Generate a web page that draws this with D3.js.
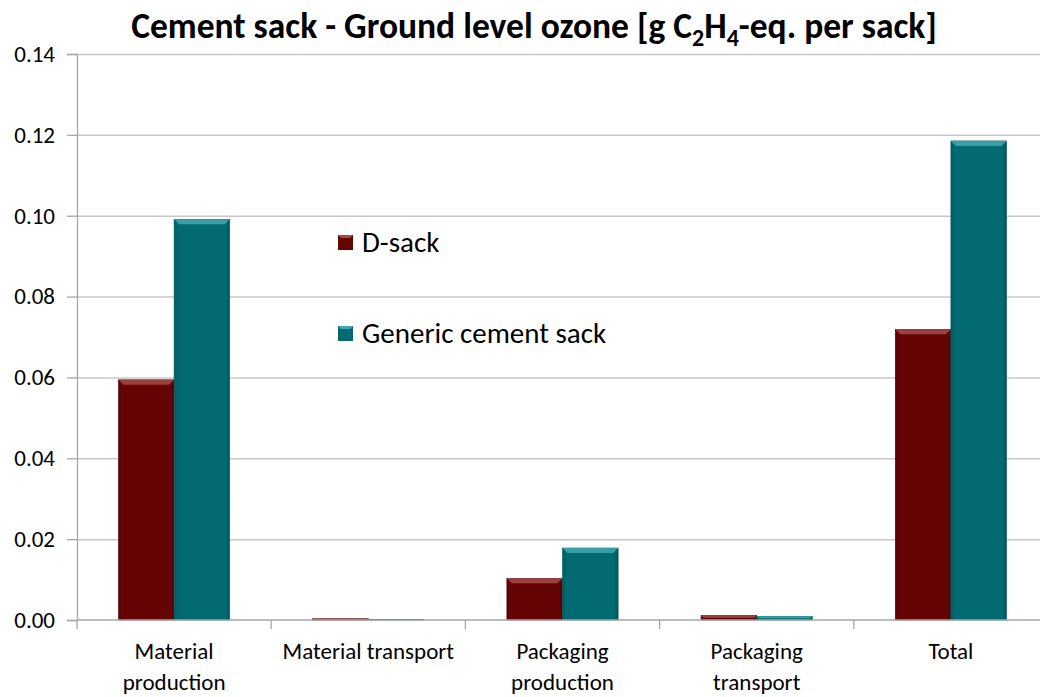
<!DOCTYPE html>
<html>
<head>
<meta charset="utf-8">
<script src="https://cdn.jsdelivr.net/npm/d3@7"></script>
<style>
body { margin: 0; background: #fff; }
svg text { font-family: Carlito, Lato, "Open Sans", sans-serif; fill: #000; }
.grid line { stroke: #c8c8c8; stroke-width: 1.5; }
.axis path, .axis line { stroke: #a6a6a6; stroke-width: 1.3; }
</style>
</head>
<body>
<svg id="chart" width="1040" height="697"></svg>
<script>
var categories = [["Material", "production"], ["Material transport"], ["Packaging", "production"], ["Packaging", "transport"], ["Total"]];
var seriesNames = ["D-sack", "Generic cement sack"];
var dSack = [0.0594, 0.0003, 0.0103, 0.0011, 0.0719];
var genericSack = [0.0991, 0.0001, 0.0178, 0.0009, 0.1185];
var yTicks = [0, 0.02, 0.04, 0.06, 0.08, 0.10, 0.12, 0.14];
var colors = ["#650405", "#036a72"];
var lightColors = ["#a64a4a", "#3fa8b0"];

var svg = d3.select("#chart");
// the plot runs slightly past the right edge of the picture, as in the original
var mLeft = 77, mRight = 1048, mTop = 54, mBottom = 620, edge = 1040;

var y = d3.scaleLinear().domain([0, 0.14]).range([mBottom, mTop]);
var x = d3.scaleBand().domain(d3.range(categories.length)).range([mLeft, mRight]).paddingInner(0.427).paddingOuter(0.2135);
var xs = d3.scaleBand().domain([0, 1]).range([0, x.bandwidth()]);

// side shading for the bevelled look
var defs = svg.append("defs");
colors.forEach(function(c, i) {
	var g = defs.append("linearGradient").attr("id", "side" + i).attr("x1", 0).attr("x2", 1).attr("y1", 0).attr("y2", 0);
	g.append("stop").attr("offset", "0").attr("stop-color", d3.color(c).darker(0.4));
	g.append("stop").attr("offset", "0.08").attr("stop-color", c);
	g.append("stop").attr("offset", "0.92").attr("stop-color", c);
	g.append("stop").attr("offset", "1").attr("stop-color", d3.color(c).darker(0.6));
});

// grid
var grid = svg.append("g").attr("class", "grid")
	.attr("transform", "translate(" + mLeft + ",0)")
	.call(d3.axisLeft(y).tickValues(yTicks.slice(1)).tickSize(mLeft - edge).tickFormat(""));
grid.select(".domain").remove();

// bars
var series = [dSack, genericSack];
series.forEach(function(vals, s) {
	var g = svg.append("g");
	vals.forEach(function(v, i) {
		var bx = x(i) + xs(s), bw = xs.bandwidth(), by = y(v), bh = y(0) - y(v);
		g.append("rect").attr("x", bx).attr("y", by).attr("width", bw).attr("height", bh)
			.attr("fill", "url(#side" + s + ")").attr("stroke", d3.color(colors[s]).darker(0.5)).attr("stroke-width", 0.6);
		var bev = Math.min(5, bh / 2);
		if (bh > 1) {
			g.append("path")
				.attr("d", "M" + bx + "," + by + "L" + (bx + bw) + "," + by + "L" + (bx + bw - bev) + "," + (by + bev) + "L" + (bx + bev) + "," + (by + bev) + "Z")
				.attr("fill", lightColors[s]).attr("opacity", 0.85);
		}
	});
});

// y axis
var yAxis = svg.append("g").attr("class", "axis").attr("transform", "translate(" + mLeft + ",0)")
	.call(d3.axisLeft(y).tickValues(yTicks).tickSize(10).tickPadding(12).tickFormat(d3.format(".2f")));
yAxis.selectAll("text").style("font-size", "23px");

// x axis
var xAxis = svg.append("g").attr("class", "axis").attr("transform", "translate(0," + mBottom + ")");
xAxis.append("line").attr("x1", mLeft).attr("x2", edge).attr("y1", 0).attr("y2", 0);
d3.range(categories.length + 1).forEach(function(i) {
	var tx = mLeft + i * x.step();
	xAxis.append("line").attr("x1", tx).attr("x2", tx).attr("y1", 0).attr("y2", 9);
});
categories.forEach(function(lines, i) {
	var cx = x(i) + x.bandwidth() / 2;
	var t = xAxis.append("text").attr("text-anchor", "middle").style("font-size", "23px")
		.attr("x", cx).attr("y", 39);
	lines.forEach(function(l, k) {
		t.append("tspan").attr("x", cx).attr("dy", k ? 31 : 0).text(l);
	});
});

// legend
var legend = svg.append("g").attr("transform", "translate(338,235)");
seriesNames.forEach(function(n, i) {
	var lg = legend.append("g").attr("transform", "translate(0," + (i * 91) + ")");
	lg.append("rect").attr("width", 15).attr("height", 15).attr("fill", colors[i]);
	lg.append("path").attr("d", "M0,0L15,0L12,3L3,3Z").attr("fill", lightColors[i]);
	lg.append("text").attr("x", 24).attr("y", 17).style("font-size", "29px").text(n);
});

// title
var title = svg.append("text").attr("x", 534).attr("y", 38).attr("text-anchor", "middle")
	.style("font-size", "35.5px").style("font-weight", "bold");
title.append("tspan").text("Cement sack - Ground level ozone [g C");
title.append("tspan").attr("dy", 8).style("font-size", "24px").text("2");
title.append("tspan").attr("dy", -8).text("H");
title.append("tspan").attr("dy", 8).style("font-size", "24px").text("4");
title.append("tspan").attr("dy", -8).text("-eq. per sack]");
</script>
</body>
</html>
